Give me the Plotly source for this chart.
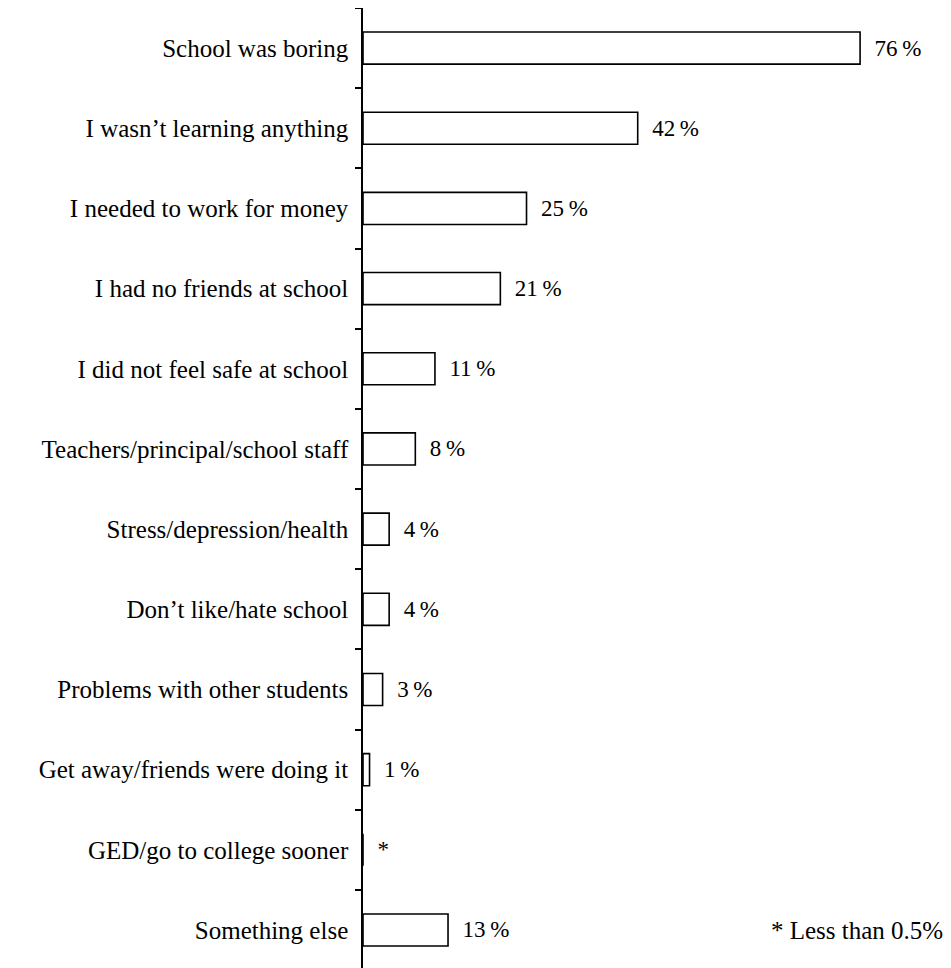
import plotly.graph_objects as go

categories = [
    "School was boring",
    "I wasn’t learning anything",
    "I needed to work for money",
    "I had no friends at school",
    "I did not feel safe at school",
    "Teachers/principal/school staff",
    "Stress/depression/health",
    "Don’t like/hate school",
    "Problems with other students",
    "Get away/friends were doing it",
    "GED/go to college sooner",
    "Something else",
]
values = [76, 42, 25, 21, 11, 8, 4, 4, 3, 1, 0, 13]
value_labels = ["76\u2009%", "42\u2009%", "25\u2009%", "21\u2009%", "11\u2009%", "8\u2009%",
                "4\u2009%", "4\u2009%", "3\u2009%", "1\u2009%", "*", "13\u2009%"]
footnote = "* Less than 0.5%"

FONT = "Liberation Serif"

fig = go.Figure(go.Bar(
    x=values,
    y=categories,
    orientation="h",
    marker=dict(color="white", line=dict(color="black", width=1.6)),
    text=["\u2002" + t for t in value_labels],
    textposition="outside",
    textfont=dict(family=FONT, size=23, color="black"),
    cliponaxis=False,
    width=0.4,
))

fig.update_layout(
    width=943, height=960,
    margin=dict(l=355, r=0, t=0, b=0),
    plot_bgcolor="white", paper_bgcolor="white",
    showlegend=False,
    font=dict(family=FONT, size=25, color="black"),
    xaxis=dict(range=[0, 89.9], visible=False, fixedrange=True),
    yaxis=dict(
        type="category",
        categoryorder="array", categoryarray=categories,
        range=[11.474, -0.5], autorange=False,
        showline=True, linecolor="black", linewidth=1.5,
        ticks="outside", tickson="boundaries", ticklen=6, tickwidth=1.5, tickcolor="black",
        ticklabelstandoff=8,
        showgrid=False, zeroline=False,
        automargin=False,
        tickfont=dict(family=FONT, size=25, color="black"),
    ),
    annotations=[dict(
        text=footnote, xref="paper", yref="paper", x=1.0, y=38 / 960,
        xanchor="right", yanchor="middle", xshift=-6, showarrow=False,
        font=dict(family=FONT, size=25, color="black"),
    )],
)

fig.write_html("out.html")
